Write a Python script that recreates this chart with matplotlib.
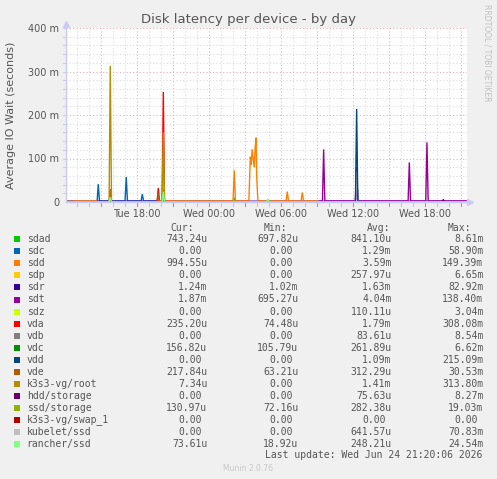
import matplotlib
matplotlib.use("Agg")
import matplotlib.pyplot as plt
import numpy as np

W, H = 497, 479

# legend table
names = ["sdad", "sdc", "sdd", "sdp", "sdr", "sdt", "sdz", "vda", "vdb", "vdc",
         "vdd", "vde", "k3s3-vg/root", "hdd/storage", "ssd/storage",
         "k3s3-vg/swap_1", "kubelet/ssd", "rancher/ssd"]
colors = ["#00CC00", "#0066B3", "#FF8000", "#FFCC00", "#330099", "#990099",
          "#CCFF00", "#FF0000", "#808080", "#008F00", "#00487D", "#B35A00",
          "#B38F00", "#6B006B", "#8FB300", "#B30000", "#BEBEBE", "#80FF80"]
cur = ["743.24u", "0.00 ", "994.55u", "0.00 ", "1.24m", "1.87m", "0.00 ",
       "235.20u", "0.00 ", "156.82u", "0.00 ", "217.84u", "7.34u", "0.00 ",
       "130.97u", "0.00 ", "0.00 ", "73.61u"]
mins = ["697.82u", "0.00 ", "0.00 ", "0.00 ", "1.02m", "695.27u", "0.00 ",
        "74.48u", "0.00 ", "105.79u", "0.00 ", "63.21u", "0.00 ", "0.00 ",
        "72.16u", "0.00 ", "0.00 ", "18.92u"]
avgs = ["841.10u", "1.29m", "3.59m", "257.97u", "1.63m", "4.04m", "110.11u",
        "1.79m", "83.61u", "261.89u", "1.09m", "312.29u", "1.41m", "75.63u",
        "282.38u", "0.00 ", "641.57u", "248.21u"]
maxs = ["8.61m", "58.90m", "149.39m", "6.65m", "82.92m", "138.40m", "3.04m",
        "308.08m", "8.54m", "6.62m", "215.09m", "30.53m", "313.80m", "8.27m",
        "19.03m", "0.00 ", "70.83m", "24.54m"]

# series: hours since Tue 00:00 and latency in milliseconds
sdad_t = [12.05, 45.5]
sdad_v = [0.8, 0.8]
sdc_t = [12.05, 14.65, 14.75, 14.85, 14.9, 16.98, 17.08, 17.18, 18.32, 18.42, 18.52, 19.6, 19.7, 45.5]
sdc_v = [0.0, 0.0, 41.0, 2.5, 2.5, 2.5, 57.5, 2.5, 2.5, 18.0, 2.5, 2.5, 0.0, 0.0]
sdd_t = [12.05, 12.8, 12.85, 14.6, 14.7, 19.8, 19.9, 25.98, 26.08, 26.18, 27.3, 27.42,
         27.5, 27.57, 27.66, 27.75, 27.82, 27.9, 27.95, 28.05, 30.4, 30.5, 30.6,
         31.65, 31.75, 31.85, 33.0, 33.1, 45.5]
sdd_v = [0.0, 0.0, 2.5, 2.5, 0.0, 0.0, 2.5, 2.5, 73.0, 2.5, 2.5, 104.0,
         85.0, 121.0, 100.0, 80.0, 125.0, 148.0, 60.0, 2.5, 2.5, 24.0, 2.5,
         2.5, 22.0, 2.5, 2.5, 0.0, 0.0]
sdp_t = [12.05, 12.75, 12.85, 45.5]
sdp_v = [2.5, 2.5, 0.0, 0.0]
sdr_t = [12.05, 36.18, 36.28, 36.38, 45.5]
sdr_v = [1.6, 1.6, 80.0, 1.6, 1.6]
sdt_t = [12.05, 33.1, 33.2, 33.43, 33.53, 33.63, 36.18, 36.28, 36.38,
         40.57, 40.67, 40.77, 42.04, 42.14, 42.24, 45.5]
sdt_v = [1.0, 1.0, 2.5, 2.5, 121.0, 2.5, 2.5, 70.0, 2.5,
         2.5, 91.0, 2.5, 2.5, 137.0, 2.5, 2.5]
vda_t = [12.05, 19.65, 19.75, 19.85, 20.07, 20.17, 20.27, 45.5]
vda_v = [0.2, 0.2, 32.0, 0.2, 0.2, 253.0, 0.2, 0.2]
vdc_t = [12.05, 28.77, 28.87, 28.97, 45.5]
vdc_v = [0.2, 0.2, 5.0, 0.2, 0.2]
vdd_t = [12.05, 36.18, 36.28, 36.38, 45.5]
vdd_v = [0.0, 0.0, 214.0, 0.0, 0.0]
vde_t = [12.05, 15.65, 15.75, 15.85, 19.65, 19.75, 19.85, 20.07, 20.17, 20.27, 45.5]
vde_v = [0.2, 0.2, 30.0, 0.2, 0.2, 20.0, 0.2, 0.2, 28.0, 0.2, 0.2]
root_t = [12.05, 15.65, 15.75, 15.85, 20.07, 20.17, 20.27, 45.5]
root_v = [0.0, 0.0, 313.0, 0.0, 0.0, 160.0, 0.0, 0.0]
hdd_t = [12.05, 43.4, 43.5, 43.6, 45.5]
hdd_v = [0.0, 0.0, 6.0, 0.0, 0.0]
ssd_t = [12.05, 25.98, 26.08, 26.18, 45.5]
ssd_v = [0.3, 0.3, 10.0, 0.3, 0.3]
kubelet_t = [12.05, 36.18, 36.28, 36.38, 45.5]
kubelet_v = [0.0, 0.0, 70.0, 0.0, 0.0]
rancher_t = [12.05, 15.65, 15.75, 15.85, 20.07, 20.17, 20.27, 28.77, 28.87, 28.97, 45.5]
rancher_v = [0.2, 0.2, 11.0, 0.2, 0.2, 24.0, 0.2, 0.2, 7.0, 0.2, 0.2]

series = [
    (sdad_t, sdad_v, "#00CC00"), (sdc_t, sdc_v, "#0066B3"),
    (sdp_t, sdp_v, "#FFCC00"), (sdr_t, sdr_v, "#330099"),
    (sdd_t, sdd_v, "#FF8000"), (sdt_t, sdt_v, "#990099"),
    (vda_t, vda_v, "#FF0000"), (vdc_t, vdc_v, "#008F00"),
    (vde_t, vde_v, "#B35A00"), (root_t, root_v, "#B38F00"),
    (kubelet_t, kubelet_v, "#BEBEBE"), (vdd_t, vdd_v, "#00487D"),
    (hdd_t, hdd_v, "#6B006B"), (ssd_t, ssd_v, "#8FB300"),
    (rancher_t, rancher_v, "#80FF80"),
]

xticks = [18, 24, 30, 36, 42]
xticklabels = ["Tue 18:00", "Wed 00:00", "Wed 06:00", "Wed 12:00", "Wed 18:00"]
yticks = [0, 100, 200, 300, 400]
yticklabels = ["0", "100 m", "200 m", "300 m", "400 m"]

BG = "#F0F0F0"
TXT = "#555555"
AXC = "#C8CCF4"

fig = plt.figure(figsize=(W / 100, H / 100), dpi=100, facecolor=BG)
L, R, T, B = 66, 467, 28, 202
ax = fig.add_axes([L / W, 1 - B / H, (R - L) / W, (B - T) / H])
ax.set_facecolor("white")
x0, x1 = 12.06, 12.06 + (R - L) / 12.0
ax.set_xlim(x0, x1)
ax.set_ylim(0, 400)

# grid + small ticks under the x axis
for h in np.arange(13, 46, 1):
    major = (h % 3 == 0)
    gc = "#E8B0B0" if major else "#DADADA"
    ax.axvline(h, color=gc, lw=0.8, ls=(0, (1, 2)), zorder=0)
    ax.plot([h, h], [-3, -9], color="#E08080" if major else "#C8C8C8",
            lw=0.8, clip_on=False, zorder=4)
for v in np.arange(20, 401, 20):
    major = (v % 100 == 0)
    gc = "#E8B0B0" if major else "#DADADA"
    ax.axhline(v, color=gc, lw=0.8, ls=(0, (1, 2)), zorder=0)
    ax.plot([x0 - 0.25, x0], [v, v], color=AXC, lw=0.8, clip_on=False, zorder=4)

for t, v, c in series:
    ax.plot(t, v, color=c, lw=1.0, zorder=3, solid_joinstyle="miter")

for s in ax.spines.values():
    s.set_visible(False)
ax.set_xticks(xticks)
ax.set_xticklabels(xticklabels)
ax.set_yticks(yticks)
ax.set_yticklabels(yticklabels)
ax.tick_params(axis="both", length=0, labelsize=7, colors=TXT, pad=5)
ax.tick_params(axis="x", pad=5)

# axes with arrows
ax.plot([x0, x1 + 0.25], [0, 0], color=AXC, lw=1.0, clip_on=False, zorder=4)
ax.plot([x1 + 0.25], [0], marker=">", color=AXC, ms=4, clip_on=False, zorder=4)
ax.plot([x0, x0], [0, 410], color=AXC, lw=1.0, clip_on=False, zorder=4)
ax.plot([x0], [410], marker="^", color=AXC, ms=4, clip_on=False, zorder=4)

ax.set_ylabel("Average IO Wait (seconds)", fontsize=8, color=TXT)
ax.yaxis.set_label_coords((16 - L) / (R - L), 0.5)
fig.text(248.5 / W, 1 - 19 / H, "Disk latency per device - by day",
         ha="center", va="center", fontsize=9.5, color=TXT)
fig.text(487 / W, 1 - 53 / H, "RRDTOOL / TOBI OETIKER", rotation=270,
         ha="center", va="center", fontsize=5.5, color="#C0C0C0")

# legend table
mono = "DejaVu Sans Mono"
def px(x, y):
    return x / W, 1 - y / H

hdr_y = 228.3
for lab, xr in [("Cur:", 194.3), ("Min:", 287.3), ("Avg:", 390.0), ("Max:", 470.7)]:
    fig.text(*px(xr, hdr_y), lab, ha="right", va="center", family=mono,
             fontsize=7, color=TXT)

for i, n in enumerate(names):
    y = 239.3 + 12.04 * i
    fig.patches.append(plt.Rectangle(px(14, y + 3), 6 / W, 6 / H,
                                     transform=fig.transFigure,
                                     color=colors[i], lw=0))
    fig.text(*px(26.7, y), n, ha="left", va="center", family=mono,
             fontsize=7, color=TXT)
    for col, xr in [(cur, 207.3), (mins, 298.3), (avgs, 391.7), (maxs, 483.3)]:
        s = col[i]
        off = 0
        if s.endswith(" "):
            s = s.rstrip()
            off = 5.9
        fig.text(*px(xr - off, y), s, ha="right", va="center", family=mono,
                 fontsize=7, color=TXT)

fig.text(*px(482.3, 455.3), "Last update: Wed Jun 24 21:20:06 2026",
         ha="right", va="center", family=mono, fontsize=7, color=TXT)
fig.text(*px(248, 468.3), "Munin 2.0.76", ha="center", va="center",
         fontsize=5.5, color="#C8C8C8")

fig.savefig("out.png", dpi=100, facecolor=BG)
